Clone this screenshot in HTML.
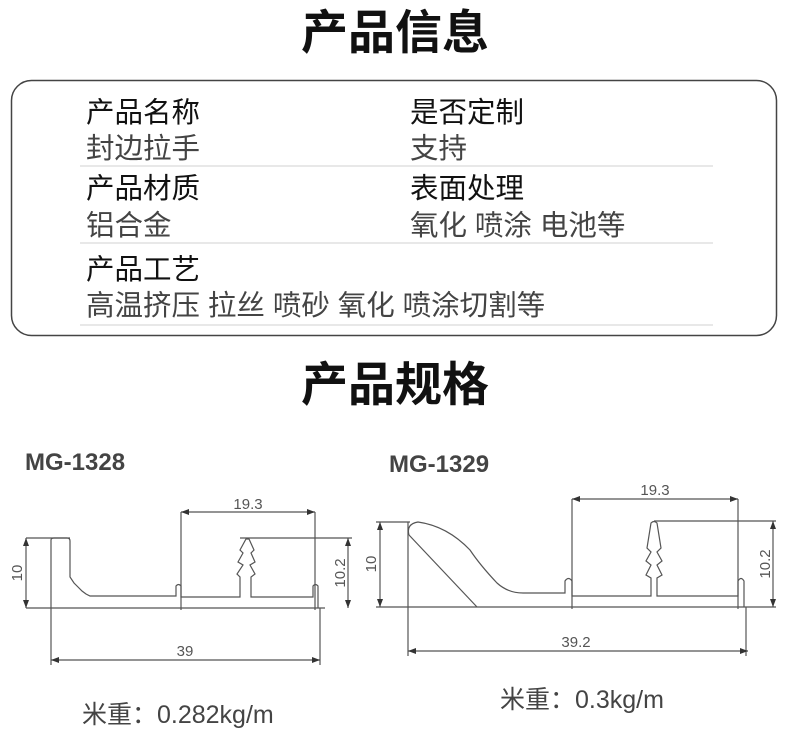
<!DOCTYPE html>
<html><head><meta charset="utf-8"><style>
html,body{margin:0;padding:0;background:#fff;}
svg{display:block}
</style></head><body>
<svg width="790" height="740" viewBox="0 0 790 740" xmlns="http://www.w3.org/2000/svg" font-family="Liberation Sans, Noto Sans CJK SC, sans-serif">
<text x="395" y="49" text-anchor="middle" font-size="47" font-weight="bold" fill="#111">产品信息</text>
<rect x="11.5" y="80.5" width="765" height="255" rx="20" fill="#fff" stroke="#444" stroke-width="1.5"/>
<g font-size="28.5">
<text x="86" y="122" fill="#111">产品名称</text>
<text x="86" y="158" fill="#444">封边拉手</text>
<text x="410" y="122" fill="#111">是否定制</text>
<text x="410" y="158" fill="#444">支持</text>
<text x="86" y="198" fill="#111">产品材质</text>
<text x="86" y="235" fill="#444">铝合金</text>
<text x="410" y="198" fill="#111">表面处理</text>
<text x="410" y="235" fill="#444">氧化 喷涂 电池等</text>
<text x="86" y="279" fill="#111">产品工艺</text>
<text x="86" y="315" fill="#444">高温挤压 拉丝 喷砂 氧化 喷涂切割等</text>
</g>
<g stroke="#e8e8e8" stroke-width="2">
<line x1="80" y1="166" x2="713" y2="166"/>
<line x1="80" y1="243" x2="713" y2="243"/>
<line x1="80" y1="325" x2="713" y2="325"/>
</g>
<text x="395" y="401" text-anchor="middle" font-size="47" font-weight="bold" fill="#111">产品规格</text>

<text x="25" y="470" font-size="24" font-weight="bold" fill="#444">MG-1328</text>
<text x="389" y="472" font-size="24" font-weight="bold" fill="#444">MG-1329</text>

<g fill="none" stroke="#555" stroke-width="1.2">
<line x1="26" y1="538" x2="70" y2="538"/>
<line x1="26" y1="608" x2="325" y2="608"/>
<line x1="26" y1="538" x2="26" y2="608"/>
<line x1="181" y1="512" x2="181" y2="610"/>
<line x1="315" y1="512" x2="315" y2="610"/>
<line x1="181" y1="512" x2="315" y2="512"/>
<line x1="240" y1="538" x2="352" y2="538"/>
<line x1="348" y1="538" x2="348" y2="608"/>
<line x1="51" y1="608" x2="51" y2="665"/>
<line x1="320" y1="608" x2="320" y2="665"/>
<line x1="51" y1="660" x2="320" y2="660"/>
<path d="M51 608 V540 Q51 538 54 538 H67 Q70 538 70 541 V577 L74 583 L78 587 L82 591 L86 594 L90 596 H176 V586 Q178.5 583 181 586 V597 H240 V577 L237 574 L243 565 L238 562 L243 553 L240 550 L246 539 L249 539 L254 550 L251 553 L255 562 L250 565 L255 574 L251 577 V597 H313 V586 Q315.5 583 318 586 V608"/>
<line x1="376" y1="522" x2="410" y2="522"/>
<line x1="376" y1="607" x2="776" y2="607"/>
<line x1="380" y1="522" x2="380" y2="607"/>
<line x1="572" y1="499" x2="572" y2="609"/>
<line x1="738" y1="499" x2="738" y2="609"/>
<line x1="572" y1="499" x2="738" y2="499"/>
<line x1="654" y1="521" x2="776" y2="521"/>
<line x1="773" y1="521" x2="773" y2="607"/>
<line x1="408" y1="522" x2="408" y2="656"/>
<line x1="746" y1="607" x2="746" y2="656"/>
<line x1="408" y1="651" x2="748" y2="651"/>
<path d="M409 535 Q406 524 418 522 Q447 526 470 550 Q480 565 497 583 Q508 593 523 593 H565 V581 Q568.5 576 572 581 V596 H651 V578 L646 575 L651 565 L646 561 L651 552 L647 548 L651 523 Q654 520 657 523 L661 548 L657 552 L662 561 L657 565 L662 575 L657 578 V596 H738 V581 Q741 576 744 581 V607"/>
<line x1="409" y1="535" x2="477" y2="607"/>
</g>
<g fill="#333">
<path d="M26 538 l-3 8 h6z M26 608 l-3 -8 h6z"/>
<path d="M181 512 l8 -3 v6z M315 512 l-8 -3 v6z"/>
<path d="M348 538 l-3 8 h6z M348 608 l-3 -8 h6z"/>
<path d="M51 660 l8 -3 v6z M320 660 l-8 -3 v6z"/>
<path d="M380 522 l-3 8 h6z M380 607 l-3 -8 h6z"/>
<path d="M572 499 l8 -3 v6z M738 499 l-8 -3 v6z"/>
<path d="M773 521 l-3 8 h6z M773 607 l-3 -8 h6z"/>
<path d="M408 651 l8 -3 v6z M748 651 l-8 -3 v6z"/>
</g>
<g font-size="15" fill="#555" font-family="Liberation Sans, sans-serif">
<text x="248" y="509" text-anchor="middle">19.3</text>
<text x="185" y="656" text-anchor="middle">39</text>
<text x="655" y="495" text-anchor="middle">19.3</text>
<text x="576" y="647" text-anchor="middle">39.2</text>
<text transform="translate(22,573) rotate(-90)" text-anchor="middle">10</text>
<text transform="translate(345,573) rotate(-90)" text-anchor="middle">10.2</text>
<text transform="translate(376,564) rotate(-90)" text-anchor="middle">10</text>
<text transform="translate(770,564) rotate(-90)" text-anchor="middle">10.2</text>
</g>
<text x="82" y="723" font-size="25" fill="#444">米重：0.282kg/m</text>
<text x="500" y="708" font-size="25" fill="#444">米重：0.3kg/m</text>
</svg>
</body></html>
